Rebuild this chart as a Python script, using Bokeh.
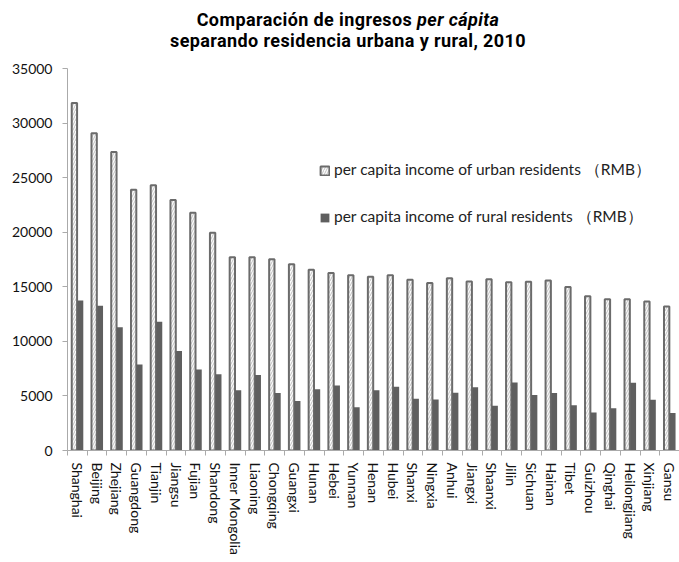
from bokeh.plotting import figure
from bokeh.layouts import column
from bokeh.models import (ColumnDataSource, Range1d, FixedTicker, Legend, LegendItem, Div)
from bokeh.transform import dodge
from bokeh.embed import file_html
from bokeh.resources import INLINE

provinces = ["Shanghai", "Beijing", "Zhejiang", "Guangdong", "Tianjin", "Jiangsu", "Fujian",
             "Shandong", "Inner Mongolia", "Liaoning", "Chongqing", "Guangxi", "Hunan", "Hebei",
             "Yunnan", "Henan", "Hubei", "Shanxi", "Ningxia", "Anhui", "Jiangxi", "Shaanxi",
             "Jilin", "Sichuan", "Hainan", "Tibet", "Guizhou", "Qinghai", "Heilongjiang",
             "Xinjiang", "Gansu"]
urban = [31838, 29073, 27359, 23898, 24293, 22944, 21781, 19946, 17698, 17713, 17532, 17064,
         16566, 16263, 16065, 15930, 16058, 15648, 15344, 15788, 15481, 15695, 15411, 15461,
         15581, 14980, 14143, 13855, 13857, 13644, 13189]
rural = [13750, 13262, 11303, 7890, 11801, 9118, 7427, 6990, 5530, 6908, 5277, 4543, 5622,
         5958, 3952, 5524, 5832, 4736, 4675, 5285, 5789, 4105, 6237, 5087, 5275, 4139, 3472,
         3863, 6211, 4643, 3425]
y_ticks = [0, 5000, 10000, 15000, 20000, 25000, 30000, 35000]
urban_label = "per capita income of urban residents （RMB）"
rural_label = "per capita income of rural residents （RMB）"
title_line1 = "Comparación de ingresos"
title_italic = "per cápita"
title_line2 = "separando residencia urbana y rural, 2010"

idx = list(range(len(provinces)))
src = ColumnDataSource(dict(idx=idx, prov=provinces, urban=urban, rural=rural))

title = Div(
    text=f"{title_line1} <i>{title_italic}</i><br>{title_line2}",
    width=679, height=56, margin=(0, 0, 0, 0),
    styles={"font-family": "Roboto, sans-serif",
            "font-weight": "bold", "font-size": "18px", "line-height": "21px",
            "letter-spacing": "0.4px",
            "text-align": "center", "color": "black", "width": "679px",
            "padding-top": "9px", "padding-left": "17px", "box-sizing": "border-box"})

p = figure(width=679, height=506, output_backend="svg", toolbar_location=None,
           x_range=Range1d(-0.5, len(provinces) - 0.5), y_range=Range1d(0, 35000),
           min_border_left=67, min_border_right=0, min_border_top=12, min_border_bottom=112,
           margin=(0, 0, 0, 0))
p.outline_line_color = None
p.xgrid.visible = False
p.ygrid.visible = False
p.background_fill_color = "white"
p.border_fill_color = "white"

r_urban = p.vbar(x=dodge("idx", -0.15, range=p.x_range), top="urban", width=0.27, source=src,
                 fill_color="#fbfbfb", line_color="#6b6b6b", line_width=2,
                 hatch_pattern="/", hatch_color="#b4b4b4", hatch_scale=5, hatch_weight=0.8)
r_rural = p.vbar(x=dodge("idx", 0.15, range=p.x_range), top="rural", width=0.3, source=src,
                 fill_color="#5f5f5f", line_color=None)

# axes
xa = p.xaxis[0]
xa.ticker = FixedTicker(ticks=idx, minor_ticks=[i - 0.5 for i in range(len(provinces) + 1)])
xa.major_label_overrides = {i: name for i, name in enumerate(provinces)}
xa.major_label_orientation = "vertical"
xa.major_tick_in = 0
xa.major_tick_out = 0
xa.minor_tick_in = 0
xa.minor_tick_out = 5
xa.minor_tick_line_color = "#aaaaaa"
xa.axis_line_color = "#aaaaaa"
xa.major_label_standoff = 7
xa.major_label_text_font = "Lato"
xa.major_label_text_font_size = "14px"
xa.major_label_text_color = "#111111"

ya = p.yaxis[0]
ya.ticker = FixedTicker(ticks=y_ticks)
ya.major_tick_in = 0
ya.major_tick_out = 5
ya.minor_tick_out = 0
ya.minor_tick_in = 0
ya.major_tick_line_color = "#aaaaaa"
ya.axis_line_color = "#aaaaaa"
ya.major_label_standoff = 10
ya.major_label_text_font = "Lato"
ya.major_label_text_font_size = "14px"
ya.major_label_text_color = "#111111"

# legend
legend = Legend(items=[LegendItem(label=urban_label, renderers=[r_urban]),
                       LegendItem(label=rural_label, renderers=[r_rural])],
                location=(252, 222), orientation="vertical",
                glyph_width=11, glyph_height=11, label_height=20, spacing=26,
                label_standoff=4, padding=0, margin=0,
                border_line_color=None, background_fill_alpha=0,
                label_text_font="Lato", label_text_font_size="15.5px",
                label_text_color="#222222")
p.add_layout(legend)

layout = column(title, p, margin=(0, 0, 0, 0), spacing=0)
open("out.html", "w").write(file_html(layout, INLINE))
